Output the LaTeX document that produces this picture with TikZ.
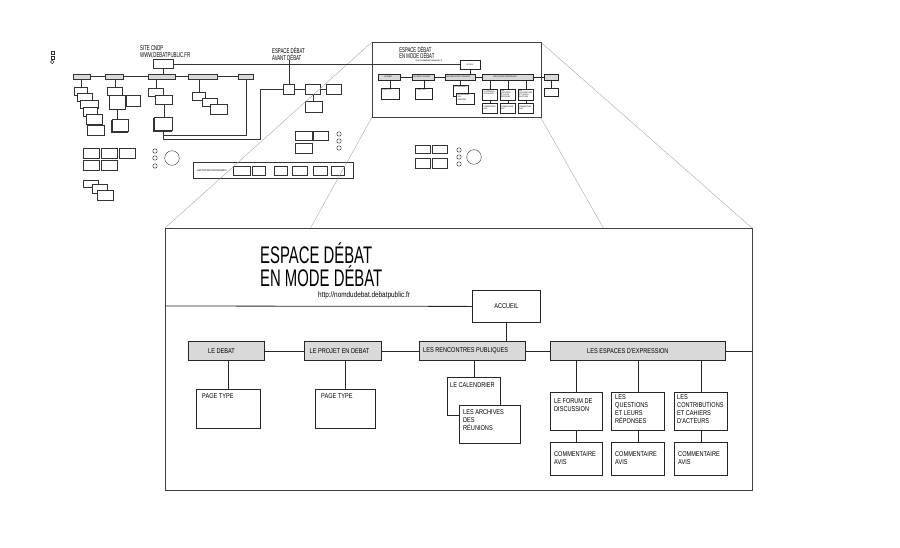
\documentclass[tikz,border=0pt]{standalone}
\usepackage{fontspec}
\setmainfont{Liberation Sans}
\newfontfamily\titrefont[FakeStretch=0.62]{Liberation Sans}
\newfontfamily\boitefont[FakeStretch=0.8]{Liberation Sans}
\usetikzlibrary{shapes, shadows}

\definecolor{gris}{HTML}{D9D9D9}

\tikzset{
  trait/.style={line width=0.8pt},
  lien/.style={trait, draw=black!85},
  gbox/.style={draw=black!85, trait, fill=gris, anchor=north west, inner sep=0pt},
  wbox/.style={draw=black!85, trait, fill=white, anchor=north west, inner sep=0pt},
  petit/.style={font=\boitefont\fontsize{7}{8}\selectfont},
  txt/.style={petit, anchor=north west, align=left, inner sep=0pt},
  titre/.style={font=\titrefont\fontsize{24}{23}\selectfont, anchor=west, align=left, inner sep=0pt},
  url/.style={font=\boitefont\fontsize{8}{8}\selectfont, anchor=west, inner sep=0pt},
  fin/.style={line width=0.45pt, draw=black!80},
  boite/.style 2 args={draw=black!80, fill=white, line width=0.45pt, anchor=north west, inner sep=0pt, minimum width=#1, minimum height=#2},
  barre/.style 2 args={boite={#1}{#2}, fill=gris},
  pile/.style={copy shadow={shadow xshift=-1.2pt, shadow yshift=-1.2pt}},
  rond/.style={draw=black!80, circle, line width=0.45pt, inner sep=0pt, minimum size=#1},
  cadre/.style={draw=black!75, line width=0.8pt, anchor=north west, inner sep=0pt},
  zoomtrait/.style={draw=black!35, line width=0.4pt},
  titrepetit/.style={font=\titrefont\fontsize{7}{7}\selectfont, anchor=west, align=left, inner sep=0pt},
  partxt/.style={font=\boitefont\fontsize{2.6}{3}\selectfont, anchor=west, inner sep=0pt}
}

% le panneau "espace debat en mode debat" (dessine en grand et en vignette)
\newcommand\panneau[1]{%
  \node[titre] (#1titre) at (95,37) {ESPACE DÉBAT\\EN MODE DÉBAT};
  \node[url] (#1url) at (153,67.5) {http://nomdudebat.debatpublic.fr};
  \coordinate (#1bord) at (0,78);
  \node[wbox, petit, minimum width=68, minimum height=32] (#1accueil) at (307,62) {ACCUEIL};
  % rubriques
  \node[gbox, minimum width=76, minimum height=19, label={[txt, anchor=west, xshift=20pt]west:LE DEBAT}] (#1debat) at (23,113) {};
  \node[gbox, minimum width=77, minimum height=19, label={[txt, anchor=west, xshift=6pt]west:LE PROJET EN DEBAT}] (#1projet) at (138.5,113) {};
  \node[gbox, minimum width=106, minimum height=19, label={[txt, anchor=west, xshift=4pt]west:LES RENCONTRES PUBLIQUES}] (#1rencontres) at (254,113) {};
  \node[gbox, minimum width=175, minimum height=19, label={[txt, anchor=west, xshift=37pt]west:LES ESPACES D'EXPRESSION}] (#1espaces) at (385,113) {};
  \node[gbox, minimum width=49, minimum height=19] (#1annexe) at (599,113) {};
  % pages
  \node[wbox, minimum width=64, minimum height=39, label={[txt, xshift=6pt, yshift=-4pt]north west:PAGE TYPE}] (#1page1) at (31,161) {};
  \node[wbox, minimum width=60, minimum height=39, label={[txt, xshift=6pt, yshift=-4pt]north west:PAGE TYPE}] (#1page2) at (150,161) {};
  \node[wbox, minimum width=53, minimum height=38, label={[txt, xshift=3pt, yshift=-5pt]north west:LE CALENDRIER}] (#1calendrier) at (282,149) {};
  \node[wbox, minimum width=61, minimum height=38, label={[txt, xshift=4pt, yshift=-4pt]north west:LES ARCHIVES\\DES\\RÉUNIONS}] (#1archives) at (294,177) {};
  \node[wbox, minimum width=52, minimum height=38, label={[txt, xshift=4pt, yshift=-6pt]north west:LE FORUM DE\\DISCUSSION}] (#1forum) at (385,164) {};
  \node[wbox, minimum width=53, minimum height=38, label={[txt, xshift=4pt, yshift=-2pt]north west:LES\\QUESTIONS\\ET LEURS\\RÉPONSES}] (#1questions) at (446,164) {};
  \node[wbox, minimum width=53, minimum height=38, label={[txt, xshift=3pt, yshift=-2pt]north west:LES\\CONTRIBUTIONS\\ET CAHIERS\\D'ACTEURS}] (#1contributions) at (509,164) {};
  \node[wbox, minimum width=52, minimum height=33, label={[txt, xshift=4pt, yshift=-9pt]north west:COMMENTAIRE\\AVIS}] (#1avis1) at (385,214) {};
  \node[wbox, minimum width=53, minimum height=33, label={[txt, xshift=4pt, yshift=-9pt]north west:COMMENTAIRE\\AVIS}] (#1avis2) at (446,214) {};
  \node[wbox, minimum width=53, minimum height=33, label={[txt, xshift=4pt, yshift=-9pt]north west:COMMENTAIRE\\AVIS}] (#1avis3) at (509,214) {};
  \node[wbox, minimum width=49, minimum height=28] (#1annexefils) at (599,160) {};
  % liens
  \draw[lien] (#1bord) -- (#1accueil.west);
  \draw[lien] (#1accueil.south) -- (#1accueil.south |- #1rencontres.north);
  \draw[lien] (#1debat.east) -- (#1projet.west);
  \draw[lien] (#1projet.east) -- (#1rencontres.west);
  \draw[lien] (#1rencontres.east) -- (#1espaces.west);
  \draw[lien] (#1espaces.east) -- (#1annexe.west);
  \draw[lien] (#1page1.north |- #1debat.south) -- (#1page1.north);
  \draw[lien] (#1page2.north |- #1projet.south) -- (#1page2.north);
  \draw[lien] (#1calendrier.north |- #1rencontres.south) -- (#1calendrier.north);
  \draw[lien] (#1forum.north |- #1espaces.south) -- (#1forum.north);
  \draw[lien] (#1questions.north |- #1espaces.south) -- (#1questions.north);
  \draw[lien] (#1contributions.north |- #1espaces.south) -- (#1contributions.north);
  \draw[lien] (#1forum.south) -- (#1avis1.north);
  \draw[lien] (#1questions.south) -- (#1avis2.north);
  \draw[lien] (#1contributions.south) -- (#1avis3.north);
  \draw[lien] (#1annexe.south) -- (#1annexefils.north);
}

\begin{document}
\begin{tikzpicture}[x=1pt, y=-1pt]
  \useasboundingbox (0,0) rectangle (900,547);

  % legende
  \node[boite={3.5}{3.5}] (leg1) at (50.5,50.5) {};
  \node[boite={3.5}{3.5}] (leg2) at (50.5,55.5) {};
  \node[rond=3.5] (leg3) at (52.2,62) {};

  % site cndp
  \node[titrepetit] (cndptitre) at (140,51.5) {SITE CNDP\\WWW.DEBATPUBLIC.FR};
  \node[boite={20}{9}] (cndp) at (153,59) {};
  \node[barre={17}{4.5}] (g1) at (73,74) {};
  \node[barre={18}{4.5}] (g2) at (105,74) {};
  \node[barre={27}{4.5}] (g3) at (148,74) {};
  \node[barre={29}{4.5}] (g4) at (188,74) {};
  \node[barre={15}{4.5}] (g5) at (238,74) {};
  \draw[fin] (g1) -- (g2) -- (g3) -- (g4) -- (g5);
  \draw[fin] (cndp.south) -- (cndp.south |- g3.north);

  \node[boite={13}{8}] (c1) at (74,87) {};
  \node[boite={15}{8}] (c2) at (77,93) {};
  \node[boite={18}{8}] (c3) at (80,100) {};
  \node[boite={14}{9}] (c4) at (83,107) {};
  \node[boite={16}{10}] (c5) at (86,114) {};
  \node[boite={17}{10}] (c6) at (87,125) {};
  \draw[fin] (c1.north |- g1.south) -- (c1.north);

  \node[boite={15}{8}] (d1) at (107,87) {};
  \node[boite={16}{14}] (d2) at (109,95) {};
  \node[boite={14}{11}] (d3) at (126,95) {};
  \node[boite={16}{12}, pile] (d4) at (112,119) {};
  \draw[fin] (d1.north |- g2.south) -- (d1.north);
  \draw[fin] (d2.south) -- (d2.south |- d4.north);

  \node[boite={15}{8}] (e1) at (148,88) {};
  \node[boite={17}{9}] (e2) at (155,95) {};
  \node[boite={18}{13}, pile] (e3) at (154,117) {};
  \draw[fin] (e1.north |- g3.south) -- (e1.north);
  \draw[fin] (e2.south) -- (e2.south |- e3.north);

  \node[boite={13}{8}] (f1) at (192,92) {};
  \node[boite={15}{8}] (f2) at (202,98) {};
  \node[boite={17}{10}] (f3) at (210,104) {};
  \draw[fin] (f1.north |- g4.south) -- (f1.north);

  % espace debat avant debat
  \node[titrepetit] (avtitre) at (272,53.5) {ESPACE DÉBAT\\AVANT DÉBAT};
  \node[boite={11}{10}] (avA) at (283,84) {};
  \node[boite={15}{10}] (avB) at (305,84) {};
  \node[boite={15}{10}] (avC) at (326,84) {};
  \node[boite={17}{11}] (avD) at (305,101) {};
  \draw[fin] (avA) -- (avB) -- (avC);
  \draw[fin] (avB.south) -- (avB.south |- avD.north);
  \draw[fin] (avtitre.south -| avA.north) -- (avA.north);
  \draw[fin] (e3.south) -- ++(0,5) -| (g5.south);
  \draw[fin] (e3.south) -- ++(0,9) -| ([xshift=-23pt]avA.west) -- (avA.west);

  % procedures
  \node[boite={16}{10}] (p1) at (83,148) {};
  \node[boite={16}{10}] (p2) at (101,148) {};
  \node[boite={16}{10}] (p3) at (119,148) {};
  \node[boite={16}{10}] (p4) at (83,160) {};
  \node[boite={16}{10}] (p5) at (101,160) {};
  \foreach \y/\n in {151/1,158/2,166/3}
    \node[rond=4.5] (o\n) at (155,\y) {};
  \node[rond=14.6] (ob) at (172,158) {};

  \node[boite={15}{7}] (q1) at (83,180) {};
  \node[boite={15}{9}] (q2) at (92,184) {};
  \node[boite={16}{10}] (q3) at (97,190) {};

  \node[boite={17}{9}] (r1) at (295,131) {};
  \node[boite={15}{9}] (r2) at (313,131) {};
  \node[boite={17}{10}] (r3) at (295,143) {};
  \foreach \y/\n in {134/1,141/2,148/3}
    \node[rond=4.5] (ro\n) at (339,\y) {};

  \node[boite={15}{8}] (s1) at (415,145) {};
  \node[boite={15}{8}] (s2) at (432,145) {};
  \node[boite={15}{10}] (s3) at (415,158) {};
  \node[boite={15}{10}] (s4) at (432,158) {};
  \foreach \y/\n in {150/1,157/2,164/3}
    \node[rond=4.5] (so\n) at (459,\y) {};
  \node[rond=14.6] (sob) at (474,157) {};

  % gestion des partenaires
  \node[boite={160}{16}] (gestion) at (193,162) {};
  \node[partxt] (gestiontxt) at (197,171) {GESTION DES PARTENAIRES};
  \foreach \x/\w [count=\i] in {233/17,252/13,274/13,292/15,313/14,331/13}
    \node[boite={\w}{9}] (part\i) at (\x,166) {};

  % effet de loupe
  \coordinate (petitNO) at (372,42);
  \coordinate (petitNE) at (540.5,42);
  \coordinate (petitSO) at (372,117.2);
  \coordinate (petitSE) at (540.5,117.2);
  \coordinate (grandNO) at (165,228);
  \coordinate (grandNE) at (752,228);
  \coordinate (grandSO) at (165,490);
  \coordinate (grandSE) at (752,490);
  \draw[zoomtrait] (petitNO) -- (grandNO);
  \draw[zoomtrait] (petitNE) -- (grandNE);
  \draw[zoomtrait] (petitSO) -- (grandSO);
  \draw[zoomtrait] (petitSE) -- (grandSE);

  \node[cadre, fill=white, minimum width=587, minimum height=262] (grand) at (grandNO) {};
  \begin{scope}[shift={(165,228)}]
    \clip (0,0) rectangle (587,262);
    \panneau{g}
  \end{scope}

  \node[cadre, line width=0.6pt, minimum width=168.5, minimum height=75.2] (petit) at (petitNO) {};
  \begin{scope}[shift={(372,42)}, scale=0.287, transform shape, trait/.style={line width=0.3pt}]
    \panneau{p}
  \end{scope}
  \draw[fin] (cndp.east) -- (cndp.east -| paccueil.west);
\end{tikzpicture}
\end{document}
